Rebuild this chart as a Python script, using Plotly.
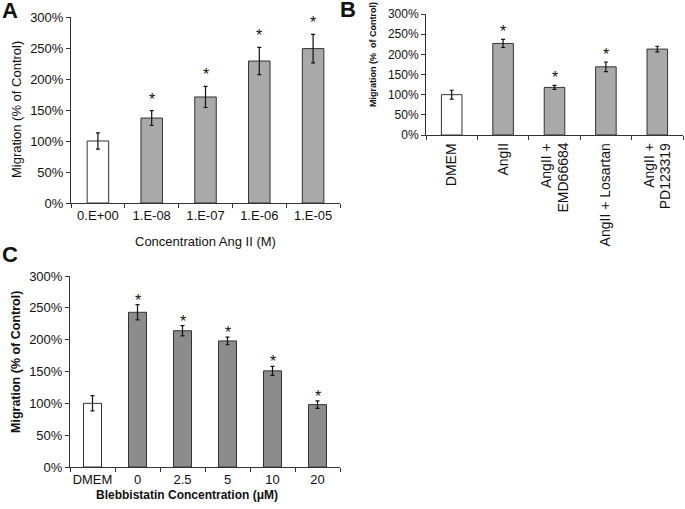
import plotly.graph_objects as go

# ---------------- data ----------------
a_cats = ["0.E+00", "1.E-08", "1.E-07", "1.E-06", "1.E-05"]
a_vals = [100, 137, 171, 229, 249]
a_errs = [13, 12, 17, 22, 23]
a_sig = [False, True, True, True, True]

b_cats = ["DMEM", "AngII", "AngII +<br>EMD66684", "AngII + Losartan", "AngII +<br>PD123319"]
b_vals = [100, 227, 118, 169, 213]
b_errs = [11, 10, 5, 12, 7]
b_sig = [False, True, True, True, False]

c_cats = ["DMEM", "0", "2.5", "5", "10", "20"]
c_vals = [100, 243, 214, 198, 151, 98]
c_errs = [12, 12, 8, 6, 7, 6]
c_sig = [False, True, True, True, True, True]

y_tickvals = [0, 50, 100, 150, 200, 250, 300]
y_ticktext = ["0%", "50%", "100%", "150%", "200%", "250%", "300%"]

W, H = 685, 509
FONT = "Liberation Sans, Arial, sans-serif"
LINE = "#333333"
TXT = "#111111"


def px_x(p):
    return p / W


def px_y(p):
    return (H - p) / H


fig = go.Figure()


def add_panel(cats, vals, errs, sig, xa, ya, gray, star_shift, star_size):
    idx = list(range(len(cats)))
    colors = ["white"] + [gray] * (len(cats) - 1)
    fig.add_trace(go.Bar(
        x=idx, y=vals, width=0.4,
        marker=dict(color=colors, line=dict(color=LINE, width=1)),
        error_y=dict(type="data", array=errs, visible=True, color=TXT, thickness=1.2, width=2),
        xaxis=xa, yaxis=ya, showlegend=False, hoverinfo="skip",
    ))
    for i, v, e, s in zip(idx, vals, errs, sig):
        if s:
            fig.add_annotation(x=i, y=v + e, xref=xa, yref=ya, text="*", showarrow=False,
                               yanchor="bottom", yshift=star_shift,
                               font=dict(family=FONT, size=star_size, color=TXT))


add_panel(a_cats, a_vals, a_errs, a_sig, "x", "y", "#a9a9a9", 1, 16)
add_panel(b_cats, b_vals, b_errs, b_sig, "x2", "y2", "#a9a9a9", -3, 16)
add_panel(c_cats, c_vals, c_errs, c_sig, "x3", "y3", "#8c8c8c", -6, 16)


def xax(domain, anchor, cats, size, labels=True):
    n = len(cats)
    d = dict(domain=domain, anchor=anchor, range=[-0.5, n - 0.5],
             tickvals=list(range(n)), ticktext=cats, showticklabels=labels,
             showline=True, linecolor=LINE, linewidth=1,
             ticks="", showgrid=False, zeroline=False, automargin=False,
             tickfont=dict(family=FONT, size=size, color=TXT),
             minor=dict(tickvals=[i - 0.5 for i in range(n + 1)], ticks="outside", ticklen=4,
                        tickcolor=LINE, showgrid=False))
    return d


def yax(domain, anchor, size):
    return dict(domain=domain, anchor=anchor, range=[0, 300], tickvals=y_tickvals, ticktext=y_ticktext,
                showline=True, linecolor=LINE, linewidth=1, ticks="outside", ticklen=4, tickcolor=LINE,
                showgrid=False, zeroline=False, automargin=False,
                tickfont=dict(family=FONT, size=size, color=TXT))


fig.update_layout(
    width=W, height=H, margin=dict(l=0, r=0, t=0, b=0),
    paper_bgcolor="white", plot_bgcolor="white",
    xaxis=xax([px_x(71), px_x(340)], "y", a_cats, 13),
    yaxis=yax([px_y(203), px_y(17)], "x", 13),
    xaxis2=xax([px_x(426), px_x(683)], "y2", b_cats, 14, labels=False),
    yaxis2=yax([px_y(135), px_y(14)], "x2", 12),
    xaxis3=xax([px_x(70), px_x(340)], "y3", c_cats, 13),
    yaxis3=yax([px_y(467), px_y(276)], "x3", 13),
)

# rotated category labels of panel B (one annotation per line, placed on the category axis)
for i, c in enumerate(b_cats):
    lines = c.split("<br>")
    m = len(lines)
    for k, ln in enumerate(lines):
        fig.add_annotation(text=ln, x=i, xref="x2", y=px_y(141), yref="paper",
                           xanchor="center", yanchor="top", textangle=-90,
                           xshift=(k - (m - 1) / 2) * 16,
                           showarrow=False, font=dict(family=FONT, size=14, color=TXT))

# axis titles and panel letters
ann = [
    dict(text="Migration (% of Control)", x=16, y=110, rot=True, size=13),
    dict(text="Concentration Ang II (M)", x=205, y=242, rot=False, size=13),
    dict(text="<b>Migration (%  of Control)</b>", x=373, y=55, rot=True, size=9),
    dict(text="<b>Migration (% of Control)</b>", x=16, y=362, rot=True, size=12.5),
    dict(text="<b>Blebbistatin Concentration (μM)</b>", x=187, y=495, rot=False, size=12),
    dict(text="<b>A</b>", x=10, y=11, rot=False, size=22),
    dict(text="<b>B</b>", x=348, y=10, rot=False, size=22),
    dict(text="<b>C</b>", x=10, y=254, rot=False, size=22),
]
for a in ann:
    fig.add_annotation(text=a["text"], x=px_x(a["x"]), y=px_y(a["y"]), xref="paper", yref="paper",
                       xanchor="center", yanchor="middle",
                       textangle=-90 if a["rot"] else 0,
                       showarrow=False, font=dict(family=FONT, size=a["size"], color=TXT))

fig.write_html("out.html", config={"displayModeBar": False},
               post_script="document.body.style.margin='0';")
